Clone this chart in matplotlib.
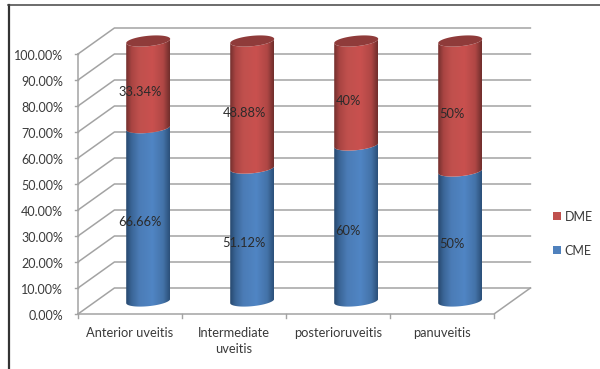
import numpy as np
import matplotlib
matplotlib.use('Agg')
from matplotlib import pyplot as plt
from matplotlib.colors import LinearSegmentedColormap
from matplotlib.lines import Line2D
from matplotlib.patches import Patch, PathPatch, Polygon
from matplotlib.path import Path

plt.rcParams['font.family'] = ['Lato', 'DejaVu Sans']

categories = ['Anterior uveitis', 'Intermediate\nuveitis', 'posterioruveitis', 'panuveitis']
cme = [66.66, 51.12, 60, 50]
dme = [33.34, 48.88, 40, 50]
cme_labels = ['66.66%', '51.12%', '60%', '50%']
dme_labels = ['33.34%', '48.88%', '40%', '50%']
yticks = [0, 10, 20, 30, 40, 50, 60, 70, 80, 90, 100]

TXT = '#3a3a3a'
GRID = '#a3a3a3'
DEPTH_X = 0.35   # oblique offset of the back wall, in categories
DEPTH_Y = 10     # same offset, in percent
HALF_W = 0.2115
CAP_H = 2.0
CAP_TILT = 0.8

blue_map = LinearSegmentedColormap.from_list('b', [(0, '#27496f'), (0.12, '#3a6596'), (0.3, '#4b7cb6'),
                                                   (0.6, '#5085c4'), (0.85, '#4473a9'), (1, '#2b5079')])
red_map = LinearSegmentedColormap.from_list('r', [(0, '#74302e'), (0.12, '#a84442'), (0.3, '#c0504d'),
                                                  (0.6, '#c9514f'), (0.85, '#b04745'), (1, '#702e2c')])

fig = plt.figure(figsize=(6, 3.69), dpi=100)
# axes fills the figure: x in categories (104 px each), y in percent (2.6 px each)
ax = fig.add_axes([0, 0, 1, 1])
ax.set_xlim(-78 / 104, 522 / 104)
ax.set_ylim(-55 / 2.6, 314 / 2.6)
ax.axis('off')


def front_arc(cx, level, reverse=False):
    t = np.linspace(np.pi, 2 * np.pi, 40)
    xs = cx + HALF_W * np.cos(t)
    ys = level + CAP_H * np.sin(t) + CAP_TILT * np.cos(t)
    pts = np.column_stack([xs, ys])
    return pts[::-1] if reverse else pts


def cyl_segment(cx, low, high, cmap):
    pts = np.vstack([front_arc(cx, low), front_arc(cx, high, reverse=True)])
    codes = [Path.MOVETO] + [Path.LINETO] * (len(pts) - 1)
    clip = PathPatch(Path(pts, codes), transform=ax.transData, fc='none', ec='none')
    ax.add_patch(clip)
    grad = np.linspace(0, 1, 120).reshape(1, -1)
    im = ax.imshow(grad, cmap=cmap, aspect='auto', zorder=3,
                   extent=[cx - HALF_W, cx + HALF_W, low - 4, high + 4])
    im.set_clip_path(clip)


# walls and floor
for v in yticks:
    ax.plot([0, DEPTH_X, 4 + DEPTH_X], [v, v + DEPTH_Y, v + DEPTH_Y], color=GRID, lw=1.1, zorder=1)
    ax.plot([-0.03, 0], [v, v], color=GRID, lw=1, zorder=1)
ax.plot([0, 0], [0, 100], color=GRID, lw=1.1, zorder=1)
ax.plot([0, 4, 4 + DEPTH_X], [0, 0, DEPTH_Y], color=GRID, lw=1.1, zorder=1)
for i in range(5):
    ax.plot([i, i], [0, -1.6], color=GRID, lw=1, zorder=1)

for i, (c, d) in enumerate(zip(cme, dme)):
    cx = i + 0.5 + DEPTH_X / 2
    base = DEPTH_Y / 2
    cyl_segment(cx, base, base + c, blue_map)
    cyl_segment(cx, base + c, base + c + d, red_map)
    # top cap of the cylinder
    t = np.linspace(0, 2 * np.pi, 80)
    top = base + c + d
    ax.add_patch(Polygon(np.column_stack([cx + HALF_W * np.cos(t),
                                          top + CAP_H * np.sin(t) + CAP_TILT * np.cos(t)]),
                         fc='#8f3b3a', ec='none', zorder=4))
    ax.text(i + 0.6, c / 2 + 1.9, cme_labels[i], ha='center', va='center',
            fontsize=9.3, color='#2a2a2a', zorder=5)
    ax.text(i + 0.6, c + d / 2 + 1.9, dme_labels[i], ha='center', va='center',
            fontsize=9.3, color='#2a2a2a', zorder=5)

for v in yticks:
    ax.text(-0.145, v - 0.6, f'{v:.2f}%', ha='right', va='center', fontsize=9, color=TXT)
for i, name in enumerate(categories):
    ax.text(i + 0.5, -4.9, name, ha='center', va='top', fontsize=9.3, color=TXT, linespacing=1.45)

handles = [Patch(fc='#c0504d', label='DME'), Patch(fc='#4f81bd', label='CME')]
ax.legend(handles=handles, loc='center left', bbox_to_anchor=(553 / 600, 0.367), frameon=False,
          fontsize=9, labelcolor=TXT, handlelength=0.64, handleheight=0.64, handletextpad=0.3,
          labelspacing=1.75, borderpad=0, borderaxespad=0)

# outer border, open at the right and bottom
fig.add_artist(Line2D([8.5 / 600, 8.5 / 600], [0, 1 - 5 / 369], color='#333333', lw=1.6))
fig.add_artist(Line2D([8 / 600, 1], [1 - 5 / 369, 1 - 5 / 369], color='#444444', lw=1.1))

fig.savefig('out.png', dpi=100)
